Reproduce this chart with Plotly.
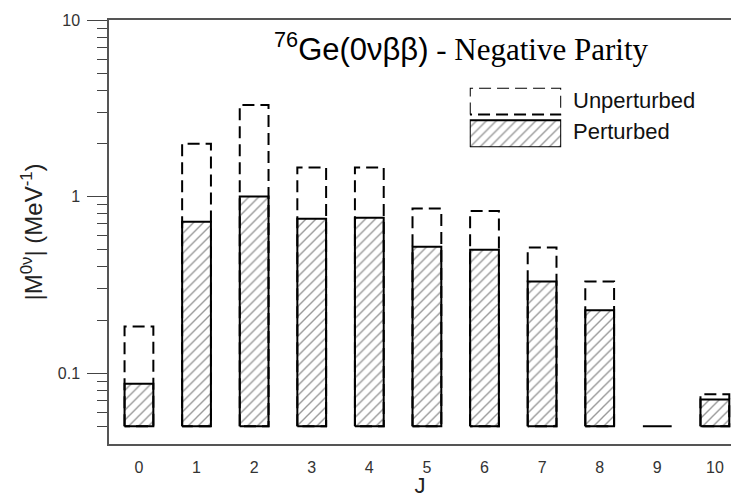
import plotly.graph_objects as go

# Angular-momentum channels and matrix-element magnitudes (MeV^-1)
J = list(range(11))
unperturbed = [0.184, 1.99, 3.3, 1.46, 1.46, 0.855, 0.83, 0.515, 0.33, 0.05, 0.076]
perturbed = [0.087, 0.72, 1.0, 0.75, 0.76, 0.52, 0.50, 0.33, 0.227, None, 0.071]
tick_labels = [str(j) for j in J]

BASE = 0.05      # bars start from this level on the log axis
HALF_W = 0.25    # half bar width in category units


def rect_path(xs, vals):
    px, py = [], []
    for x, v in zip(xs, vals):
        if v is None:
            continue
        px += [x - HALF_W, x - HALF_W, x + HALF_W, x + HALF_W, x - HALF_W, None]
        py += [BASE, v, v, BASE, BASE, None]
    return px, py


ux, uy = rect_path(J, unperturbed)
px_, py_ = rect_path(J, perturbed)

SANS = "Liberation Sans, Arial, sans-serif"

hatch = dict(shape="/", size=7, solidity=0.2, fgcolor="#333333", bgcolor="white")
dash_line = dict(color="black", width=2, dash="12px,6px")
solid_line = dict(color="black", width=2)

fig = go.Figure()

# perturbed bars: hatched with solid outline
fig.add_trace(go.Scatter(
    x=px_, y=py_, mode="lines", fill="toself", fillcolor="white",
    fillpattern=hatch, line=solid_line, hoverinfo="skip", showlegend=False,
))
# unperturbed bars: dashed outline only
fig.add_trace(go.Scatter(
    x=ux, y=uy, mode="lines", line=dash_line, hoverinfo="skip", showlegend=False,
))

# legend swatches on a small overlay axis
fig.add_trace(go.Scatter(
    x=[0, 0, 1, 1, 0], y=[0.55, 1, 1, 0.55, 0.55], mode="lines",
    line=dash_line, xaxis="x2", yaxis="y2", cliponaxis=False,
    hoverinfo="skip", showlegend=False,
))
fig.add_trace(go.Scatter(
    x=[0, 0, 1, 1, 0], y=[0, 0.455, 0.455, 0, 0], mode="lines",
    fill="toself", fillcolor="white", fillpattern=hatch, line=solid_line,
    xaxis="x2", yaxis="y2", cliponaxis=False, hoverinfo="skip", showlegend=False,
))

minor_vals = [k * 10 ** e for e in (-2, -1, 0) for k in range(2, 10)]
minor_vals = [v for v in minor_vals if v >= 0.045]

fig.update_layout(
    width=731, height=498,
    margin=dict(l=109, r=0, t=20, b=54),
    paper_bgcolor="white", plot_bgcolor="white",
    font=dict(family=SANS, color="#222222"),
    showlegend=False,
    xaxis=dict(
        range=[-0.52, 10.28], tickvals=J, ticktext=tick_labels,
        showline=True, linecolor="#555555", linewidth=1.5, mirror=True,
        ticks="", showgrid=False, zeroline=False,
        tickfont=dict(size=16, color="#333333"), ticklabelstandoff=8,
        title=dict(text="J", font=dict(size=22, color="#222222"), standoff=8),
    ),
    yaxis=dict(
        type="log", range=[-1.401, 1.0],
        tickvals=[0.1, 1, 10], ticktext=["0.1", "1", "10"],
        ticks="outside", ticklen=20, tickwidth=1.2, tickcolor="#444444",
        minor=dict(tickvals=minor_vals, ticks="outside", ticklen=10,
                   tickwidth=1.2, tickcolor="#444444", showgrid=False),
        showline=True, linecolor="#555555", linewidth=1.5,
        showgrid=False, zeroline=False,
        tickfont=dict(size=16, color="#333333"), ticklabelstandoff=4,
        title=dict(text="|M<sup>0ν</sup>| (MeV<sup>-1</sup>)",
                   font=dict(size=24, color="#222222"), standoff=8),
    ),
    xaxis2=dict(domain=[0.580, 0.727], range=[0, 1], anchor="y2",
                visible=False, fixedrange=True),
    yaxis2=dict(domain=[0.700, 0.840], range=[0, 1], anchor="x2",
                visible=False, fixedrange=True),
    annotations=[
        dict(text="<sup>76</sup>Ge(0νββ)<span style='font-family:Liberation Serif'> - Negative Parity</span>",
             xref="paper", yref="paper", x=0.567, y=0.936,
             xanchor="center", yanchor="middle", showarrow=False,
             font=dict(family=SANS, size=31, color="black")),
        dict(text="Unperturbed", xref="paper", yref="paper", x=0.743, y=0.809,
             xanchor="left", yanchor="middle", showarrow=False,
             font=dict(family=SANS, size=22, color="#111111")),
        dict(text="Perturbed", xref="paper", yref="paper", x=0.743, y=0.736,
             xanchor="left", yanchor="middle", showarrow=False,
             font=dict(family=SANS, size=22, color="#111111")),
    ],
)

fig.write_html("out.html")
